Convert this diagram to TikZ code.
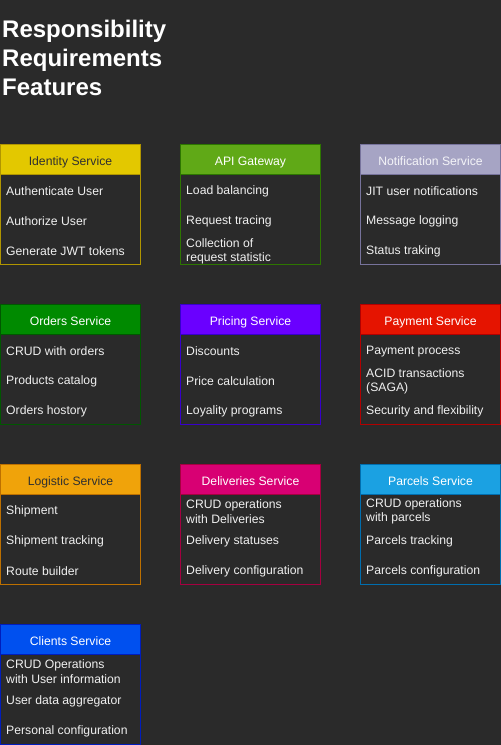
\documentclass[tikz,border=0pt]{standalone}
\usepackage{fontspec}
\setmainfont{Liberation Sans}
% palette
\definecolor{bg}{HTML}{2A2A2A}
\definecolor{itemtext}{HTML}{F0F0F0}
\definecolor{idfill}{HTML}{E3C800}\definecolor{idline}{HTML}{B09500}\definecolor{idtext}{HTML}{303030}
\definecolor{apifill}{HTML}{60A917}\definecolor{apiline}{HTML}{2D7600}\definecolor{apitext}{HTML}{FFFFFF}
\definecolor{notfill}{HTML}{A6A4C4}\definecolor{notline}{HTML}{77739C}\definecolor{nottext}{HTML}{F4F4F8}
\definecolor{ordfill}{HTML}{008A00}\definecolor{ordline}{HTML}{005700}\definecolor{ordtext}{HTML}{FFFFFF}
\definecolor{prifill}{HTML}{6A00FF}\definecolor{priline}{HTML}{3700CC}\definecolor{pritext}{HTML}{FFFFFF}
\definecolor{payfill}{HTML}{E51400}\definecolor{payline}{HTML}{B20000}\definecolor{paytext}{HTML}{FFFFFF}
\definecolor{logfill}{HTML}{F0A30A}\definecolor{logline}{HTML}{BD7000}\definecolor{logtext}{HTML}{303030}
\definecolor{delfill}{HTML}{D80073}\definecolor{delline}{HTML}{A50040}\definecolor{deltext}{HTML}{FFFFFF}
\definecolor{parfill}{HTML}{1BA1E2}\definecolor{parline}{HTML}{006EAF}\definecolor{partext}{HTML}{FFFFFF}
\definecolor{clifill}{HTML}{0050EF}\definecolor{cliline}{HTML}{001DBC}\definecolor{clitext}{HTML}{FFFFFF}

% one service card: header plus three feature rows
% #1 key, #2 x, #3 y, #4 title, #5-#7 rows
\newcommand\svccard[7]{%
  \node[bodybox, draw=#1line] (#1-body) at (#2,#3+30) {};
  \node[hdrbox, fill=#1fill, draw=#1line, text=#1text] (#1) at (#2,#3) {#4};
  \node[item] (#1-a) at (#2+6,#3+47.5) {#5};
  \node[item] (#1-b) at (#2+6,#3+77.5) {#6};
  \node[item] (#1-c) at (#2+6,#3+107.5) {#7};
}

\begin{document}
\begin{tikzpicture}[x=1pt,y=-1pt,
  hdrbox/.style={rectangle, line width=1pt, minimum width=140pt, minimum height=30pt,
    inner sep=0pt, anchor=north west, text height=12pt, text depth=0.5pt,
    font=\fontsize{12.2}{14}\selectfont},
  bodybox/.style={rectangle, line width=1pt, minimum width=140pt, minimum height=90pt,
    inner sep=0pt, anchor=north west},
  item/.style={anchor=west, align=left, inner sep=0pt, text=itemtext,
    font=\fontsize{12.2}{14.5}\selectfont},
  heading/.style={anchor=base west, align=left, inner sep=0pt, text=white,
    font=\bfseries\fontsize{24}{29}\selectfont}]

\fill[bg] (0,0) rectangle (501,745);
\useasboundingbox (0,0) rectangle (501,745);

% the base anchor of this three-line node sits on its last line
\node[heading] (heading) at (2,95.5) {Responsibility\\Requirements\\Features};

\svccard{id}{0}{144}{Identity Service}{Authenticate User}{Authorize User}{Generate JWT tokens}
\svccard{api}{180}{144}{API Gateway}{Load balancing}{Request tracing}{Collection of\\request statistic}
\svccard{not}{360}{144}{Notification Service}{JIT user notifications}{Message logging}{Status traking}

\svccard{ord}{0}{304}{Orders Service}{CRUD with orders}{Products catalog}{Orders hostory}
\svccard{pri}{180}{304}{Pricing Service}{Discounts}{Price calculation}{Loyality programs}
\svccard{pay}{360}{304}{Payment Service}{Payment process}{ACID transactions\\(SAGA)}{Security and flexibility}

\svccard{log}{0}{464}{Logistic Service}{Shipment}{Shipment tracking}{Route builder}
\svccard{del}{180}{464}{Deliveries Service}{CRUD operations\\with Deliveries}{Delivery statuses}{Delivery configuration}
\svccard{par}{360}{464}{Parcels Service}{CRUD operations\\with parcels}{Parcels tracking}{Parcels configuration}

\svccard{cli}{0}{624}{Clients Service}{CRUD Operations\\with User information}{User data aggregator}{Personal configuration}

\end{tikzpicture}
\end{document}
